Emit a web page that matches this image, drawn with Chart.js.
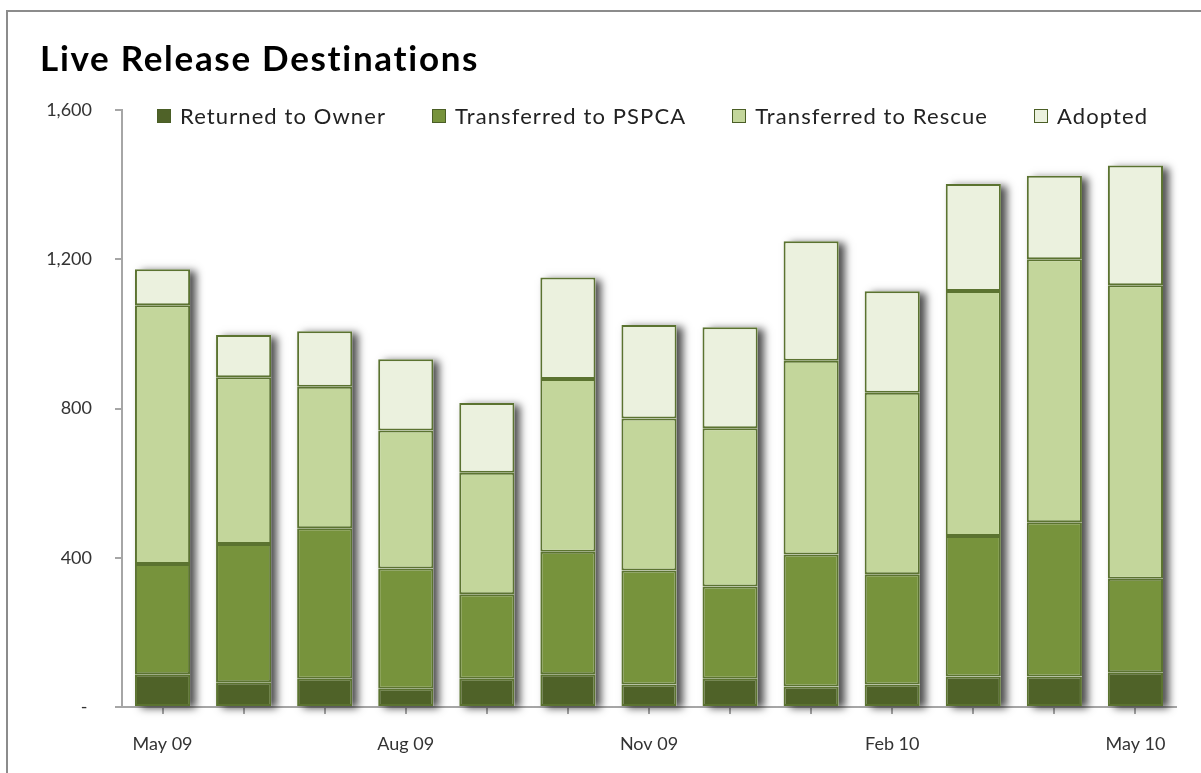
<!DOCTYPE html>
<html>
<head>
<meta charset="utf-8">
<script src="https://cdn.jsdelivr.net/npm/chart.js@4.4.1/dist/chart.umd.min.js"></script>
<style>
    body { margin: 0; background: #fff; }
    #wrap { position: relative; width: 1201px; height: 773px; overflow: hidden; }
    #frame { position: absolute; left: 6px; top: 10px; width: 1300px; height: 900px; border: 2px solid #8c8c8c; box-sizing: border-box; }
    #title { position: absolute; left: 40px; top: 36px; font-family: Lato, sans-serif; font-weight: bold; font-size: 35px; letter-spacing: 1.7px; color: #000; }
    #legend { position: absolute; left: 157px; top: 102px; display: flex; gap: 46px; font-family: Lato, sans-serif; font-size: 22px; letter-spacing: 1.1px; color: #222; }
    #legend .item { display: flex; align-items: center; }
    #legend .box { width: 12px; height: 12px; margin-right: 9px; border: 1px solid #4a5e26; }
    #chartBox { position: absolute; left: 0; top: 0; width: 1201px; height: 773px; }
</style>
</head>
<body>
<div id="wrap">
    <div id="frame"></div>
    <div id="chartBox"><canvas id="releaseChart" width="1201" height="773"></canvas></div>
    <div id="title">Live Release Destinations</div>
    <div id="legend"></div>
</div>
<script>
// months on the x axis
var months = ['May 09', 'Jun 09', 'Jul 09', 'Aug 09', 'Sep 09', 'Oct 09', 'Nov 09',
              'Dec 09', 'Jan 10', 'Feb 10', 'Mar 10', 'Apr 10', 'May 10'];

// values (counts per month)
var returnedToOwner = [88, 66, 76, 49, 76, 88, 60, 76, 55, 60, 82, 82, 93];
var transferredPSPCA = [295, 371, 403, 322, 226, 328, 306, 247, 354, 296, 376, 413, 251];
var transferredRescue = [694, 447, 379, 370, 326, 463, 407, 424, 519, 486, 657, 705, 786];
var adopted = [96, 113, 149, 191, 187, 272, 251, 271, 320, 272, 287, 224, 321];

// only every third month gets a label
var shownLabels = ['May 09', 'Aug 09', 'Nov 09', 'Feb 10', 'May 10'];
var yTicks = [0, 400, 800, 1200, 1600];

var seriesNames = ['Returned to Owner', 'Transferred to PSPCA', 'Transferred to Rescue', 'Adopted'];
var seriesData = [returnedToOwner, transferredPSPCA, transferredRescue, adopted];
var seriesColors = ['#4f6228', '#77933c', '#c3d69b', '#ebf1de'];
var edgeColor = '#5b7330';
var fontFam = 'Lato, sans-serif';

// soft shadow behind each whole stack (chart.js clips the bar itself, so draw it first)
var barShadow = {
    id: 'barShadow',
    beforeDatasetsDraw: function(chart) {
        var c = chart.ctx;
        var bottomBars = chart.getDatasetMeta(0).data;
        var topBars = chart.getDatasetMeta(seriesNames.length - 1).data;
        c.save();
        c.shadowColor = 'rgba(0,0,0,0.7)';
        c.shadowBlur = 8;
        c.shadowOffsetX = 6;
        c.shadowOffsetY = 2;
        c.fillStyle = '#ffffff';
        bottomBars.forEach(function(b, i) {
            var t = topBars[i];
            var half = b.width / 2;
            c.fillRect(b.x - half, t.y, b.width, b.base - t.y);
        });
        c.restore();
    }
};

var datasets = seriesNames.map(function(name, i) {
    return {
        label: name,
        data: seriesData[i],
        backgroundColor: seriesColors[i],
        borderColor: edgeColor,
        borderWidth: 2,
        borderSkipped: false,
        barPercentage: 0.68,
        categoryPercentage: 1.0
    };
});

var ctx = document.getElementById('releaseChart').getContext('2d');
var releaseChart = new Chart(ctx, {
    type: 'bar',
    data: {
        labels: months,
        datasets: datasets
    },
    options: {
        responsive: false,
        animation: false,
        layout: {
            padding: { left: 42, right: 25, top: 110, bottom: 16 }
        },
        plugins: {
            legend: { display: false },
            tooltip: { enabled: false }
        },
        scales: {
            x: {
                stacked: true,
                afterFit: function(s) { s.height = 50; },
                border: { color: '#a6a6a6', width: 2 },
                grid: {
                    offset: false,
                    drawOnChartArea: false,
                    drawTicks: true,
                    tickLength: 7,
                    color: '#a6a6a6',
                    lineWidth: 2
                },
                ticks: {
                    autoSkip: false,
                    maxRotation: 0,
                    padding: 19,
                    color: '#333',
                    font: { family: fontFam, size: 18 },
                    callback: function(value, index) {
                        var lab = months[index];
                        return shownLabels.indexOf(lab) >= 0 ? lab : '';
                    }
                }
            },
            y: {
                stacked: true,
                min: yTicks[0],
                max: yTicks[yTicks.length - 1],
                afterFit: function(s) { s.width = 80; },
                border: { color: '#a6a6a6', width: 2 },
                grid: {
                    drawOnChartArea: false,
                    drawTicks: true,
                    tickLength: 7,
                    color: '#a6a6a6',
                    lineWidth: 2
                },
                ticks: {
                    stepSize: 400,
                    padding: 23,
                    color: '#333',
                    font: { family: fontFam, size: 18 },
                    callback: function(v) {
                        return v === 0 ? '- ' : v.toLocaleString('en-US');
                    }
                }
            }
        }
    },
    plugins: [barShadow]
});

// html legend built from the same series lists
var legendBox = document.getElementById('legend');
seriesNames.forEach(function(name, i) {
    var item = document.createElement('div');
    item.className = 'item';
    var box = document.createElement('span');
    box.className = 'box';
    box.style.background = seriesColors[i];
    item.appendChild(box);
    var txt = document.createElement('span');
    txt.textContent = name;
    item.appendChild(txt);
    legendBox.appendChild(item);
});
</script>
</body>
</html>
